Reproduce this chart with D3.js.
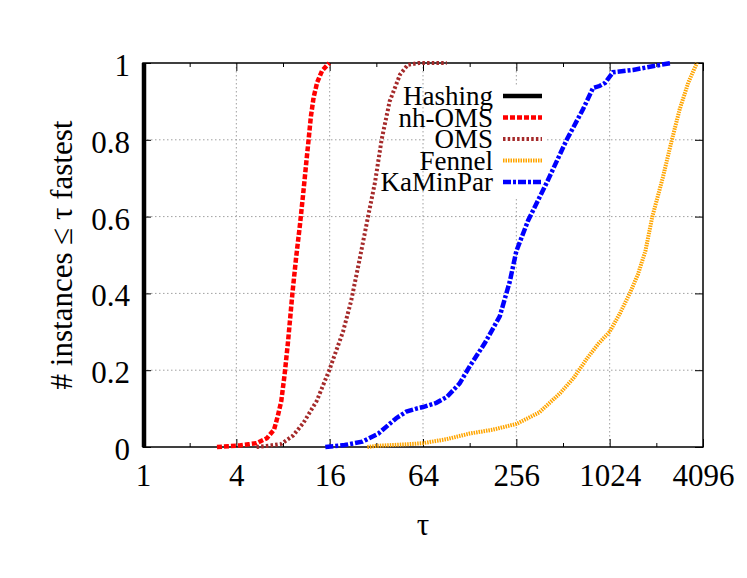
<!DOCTYPE html>
<html>
<head>
<meta charset="utf-8">
<script src="https://cdn.jsdelivr.net/npm/d3@7"></script>
<style>
  body { margin: 0; background: #fff; }
</style>
</head>
<body>
<svg id="canvas" width="747" height="578"></svg>
<script>
// performance profile, tau on a log2 axis
let majorTicks = [1, 4, 16, 64, 256, 1024, 4096]
let minorTicks = [2, 8, 32, 128, 512, 2048]
let yTicks = [0, 0.2, 0.4, 0.6, 0.8, 1]

let seriesNames = ['Hashing', 'nh-OMS', 'OMS', 'Fennel', 'KaMinPar']

let tauHashing = [1, 1]
let fracHashing = [0, 1]

let tauNhOms = [3.0, 3.6, 4.2, 4.8, 5.4, 6.3, 7.0, 7.4, 7.8, 8.2, 8.6, 9.2, 9.7, 10.3, 10.8, 11.3, 11.7, 12.1, 12.6, 13.3, 14.3, 15.9]
let fracNhOms = [0, 0.002, 0.004, 0.007, 0.01, 0.023, 0.045, 0.08, 0.12, 0.19, 0.27, 0.4, 0.49, 0.58, 0.66, 0.74, 0.8, 0.86, 0.91, 0.95, 0.98, 1.0]

let tauOms = [5.4, 6.6, 7.8, 9.3, 10.8, 13.2, 15.9, 19.5, 22, 25, 28.3, 31.4, 34.6, 39, 45.5, 51, 60, 91]
let fracOms = [0, 0.004, 0.008, 0.03, 0.062, 0.12, 0.2, 0.3, 0.38, 0.49, 0.6, 0.69, 0.8, 0.9, 0.97, 0.995, 1.0, 1.0]

let tauFennel = [28, 32, 40, 50, 64, 90, 128, 180, 256, 360, 490, 600, 730, 870, 1024, 1200, 1380, 1560, 1740, 1930, 2250, 2580, 2900, 3300, 3740]
let fracFennel = [0, 0.003, 0.005, 0.007, 0.01, 0.02, 0.035, 0.045, 0.06, 0.09, 0.14, 0.18, 0.23, 0.27, 0.3, 0.35, 0.4, 0.45, 0.51, 0.6, 0.7, 0.8, 0.88, 0.95, 1.0]

let tauKaMinPar = [15, 20, 26, 33, 43, 50, 58, 64, 78, 91, 110, 128, 160, 200, 232, 256, 305, 404, 541, 690, 800, 880, 955, 1075, 1450, 2160, 2580]
let fracKaMinPar = [0, 0.005, 0.014, 0.035, 0.075, 0.092, 0.1, 0.104, 0.115, 0.13, 0.165, 0.21, 0.27, 0.34, 0.43, 0.51, 0.59, 0.69, 0.8, 0.88, 0.935, 0.94, 0.948, 0.976, 0.982, 0.995, 1.0]

let colors = ['#000000', '#ff0000', '#a52a2a', '#ffa500', '#0000ff']
let dashes = [null, '5,2', '2.5,2.2', '1.5,1', '8,2,3,2']
let widths = [4.5, 4.5, 4, 4, 4.5]

let serif = "'Liberation Serif', 'Times New Roman', 'DejaVu Serif', serif"

let series = [
    [tauHashing, fracHashing],
    [tauNhOms, fracNhOms],
    [tauOms, fracOms],
    [tauFennel, fracFennel],
    [tauKaMinPar, fracKaMinPar]
].map((s, i) => {
    return { name: seriesNames[i], points: s[0].map((t, j) => [t, s[1][j]]) }
})

let plotLeft = 143, plotRight = 703, plotTop = 63, plotBottom = 447

let canvas = d3.select('#canvas')

let xScale = d3.scaleLog().base(2).domain([1, 4096]).range([plotLeft, plotRight])
let yScale = d3.scaleLinear().domain([0, 1]).range([plotBottom, plotTop])

// grid
let grid = canvas.append('g')
grid.selectAll('.gx')
    .data(majorTicks.slice(1, -1))
    .enter()
    .append('line')
    .attr('x1', (d) => xScale(d)).attr('x2', (d) => xScale(d))
    .attr('y1', plotTop).attr('y2', plotBottom)
grid.selectAll('.gy')
    .data(yTicks.slice(1, -1))
    .enter()
    .append('line')
    .attr('x1', plotLeft).attr('x2', plotRight)
    .attr('y1', (d) => yScale(d)).attr('y2', (d) => yScale(d))
grid.selectAll('line')
    .attr('stroke', '#a0a0a0')
    .attr('stroke-width', 1)
    .attr('stroke-dasharray', '1.5,2.5')

// opaque key box
canvas.append('rect')
    .attr('x', 425).attr('y', 86)
    .attr('width', 121).attr('height', 112)
    .attr('fill', '#fff')

// axes
let fmt = (d) => String(d)
let bottomAxis = canvas.append('g')
    .attr('transform', 'translate(0,' + plotBottom + ')')
    .call(d3.axisBottom(xScale).tickValues(majorTicks).tickFormat(fmt).tickSizeInner(-8).tickSizeOuter(0).tickPadding(17))
bottomAxis.attr('font-family', null).attr('font-size', null)
bottomAxis.selectAll('text').style('font-family', serif).style('font-size', '31px')

canvas.append('g')
    .attr('transform', 'translate(0,' + plotBottom + ')')
    .call(d3.axisBottom(xScale).tickValues(minorTicks).tickFormat('').tickSizeInner(-4).tickSizeOuter(0))
canvas.append('g')
    .attr('transform', 'translate(0,' + plotTop + ')')
    .call(d3.axisTop(xScale).tickValues(majorTicks).tickFormat('').tickSizeInner(-8).tickSizeOuter(0))
canvas.append('g')
    .attr('transform', 'translate(0,' + plotTop + ')')
    .call(d3.axisTop(xScale).tickValues(minorTicks).tickFormat('').tickSizeInner(-4).tickSizeOuter(0))

let leftAxis = canvas.append('g')
    .attr('transform', 'translate(' + plotLeft + ',0)')
    .call(d3.axisLeft(yScale).tickValues(yTicks).tickFormat(fmt).tickSizeInner(-8).tickSizeOuter(0).tickPadding(13))
leftAxis.attr('font-family', null).attr('font-size', null)
leftAxis.selectAll('text').style('font-family', serif).style('font-size', '31px').attr('dy', '0.4em')

canvas.append('g')
    .attr('transform', 'translate(' + plotRight + ',0)')
    .call(d3.axisRight(yScale).tickValues(yTicks).tickFormat('').tickSizeInner(-8).tickSizeOuter(0))

canvas.selectAll('.domain').remove()
canvas.selectAll('.tick line').attr('stroke', '#000').attr('stroke-width', 1)

canvas.append('rect')
    .attr('x', plotLeft).attr('y', plotTop)
    .attr('width', plotRight - plotLeft).attr('height', plotBottom - plotTop)
    .attr('fill', 'none')
    .attr('stroke', '#000')
    .attr('stroke-width', 1.5)

// curves
let line = d3.line()
    .x((d) => xScale(d[0]))
    .y((d) => yScale(d[1]))

canvas.append('g')
    .selectAll('path')
    .data(series)
    .enter()
    .append('path')
    .attr('d', (s) => line(s.points))
    .attr('fill', 'none')
    .attr('stroke', (s, i) => colors[i])
    .attr('stroke-width', (s, i) => widths[i])
    .attr('stroke-dasharray', (s, i) => dashes[i])
    .attr('transform', (s, i) => i === 0 ? 'translate(1,0)' : null)

// legend
let key = canvas.append('g')
    .selectAll('g')
    .data(series)
    .enter()
    .append('g')
    .attr('transform', (s, i) => 'translate(0,' + (105 + i * 21.5) + ')')

key.append('text')
    .attr('x', 493)
    .attr('text-anchor', 'end')
    .style('font-family', serif)
    .style('font-size', '27px')
    .text((s) => s.name)

key.append('line')
    .attr('x1', 503).attr('x2', 542)
    .attr('y1', -9).attr('y2', -9)
    .attr('stroke', (s, i) => colors[i])
    .attr('stroke-width', (s, i) => widths[i])
    .attr('stroke-dasharray', (s, i) => dashes[i])

// axis titles
canvas.append('text')
    .attr('x', (plotLeft + plotRight) / 2)
    .attr('y', 535)
    .attr('text-anchor', 'middle')
    .style('font-family', serif)
    .style('font-size', '31px')
    .text('τ')

canvas.append('text')
    .attr('transform', 'translate(72,' + ((plotTop + plotBottom) / 2) + ') rotate(-90)')
    .attr('text-anchor', 'middle')
    .style('font-family', serif)
    .style('font-size', '31px')
    .text('# instances ≤ τ fastest')
</script>
</body>
</html>
